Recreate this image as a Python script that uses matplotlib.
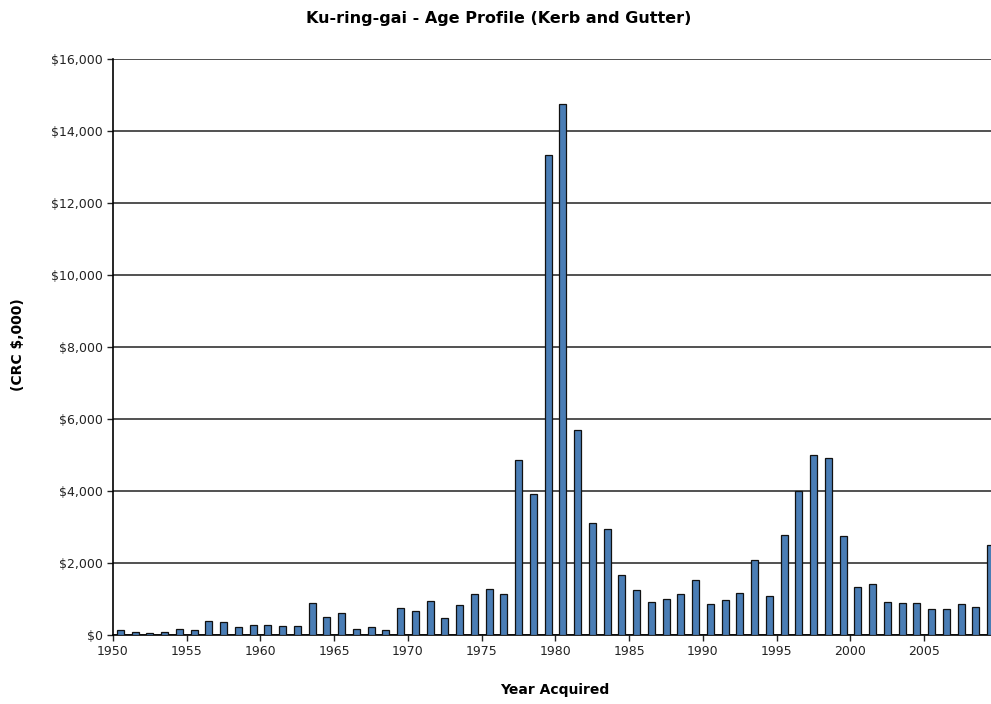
import matplotlib
matplotlib.use("Agg")
import matplotlib.pyplot as plt
from matplotlib.ticker import FuncFormatter

years = list(range(1950, 2010))
values = [
    130, 90, 50, 90, 180, 140, 380, 370, 220, 290,      # 1950-1959
    290, 260, 260, 900, 500, 620, 170, 220, 140, 740,   # 1960-1969
    670, 950, 460, 820, 1150, 1270, 1140, 4850, 3920, 13330,  # 1970-1979
    14760, 5700, 3120, 2950, 1660, 1250, 930, 1010, 1130, 1540,  # 1980-1989
    850, 970, 1170, 2090, 1090, 2780, 3990, 5010, 4920, 2750,    # 1990-1999
    1330, 1410, 920, 890, 890, 720, 720, 850, 770, 2510,         # 2000-2009
]
x_ticks = list(range(1950, 2010, 5))
y_ticks = list(range(0, 16001, 2000))

title = "Ku-ring-gai - Age Profile (Kerb and Gutter)"
x_label = "Year Acquired"
y_label = "(CRC $,000)"

plt.rcParams['font.family'] = ['DejaVu Sans']

fig = plt.figure(figsize=(9.91, 7.04), dpi=100)
ax = fig.add_axes([113 / 991, 69 / 704, (991 - 113) / 991, 576 / 704])

ax.bar([y + 0.5 for y in years], values, width=0.48, color='#4A7DB5',
       edgecolor='#111111', linewidth=0.9, zorder=3)

ax.set_xlim(1950, 2009.53)
ax.set_ylim(0, 16000)
ax.set_xticks(x_ticks)
ax.set_yticks(y_ticks)
ax.yaxis.set_major_formatter(FuncFormatter(lambda v, p: f"${int(v):,}"))
ax.grid(axis='y', color='#222222', linewidth=1.1, zorder=0)
ax.set_axisbelow(True)

for s in ['top', 'right']:
    ax.spines[s].set_visible(False)
ax.spines['left'].set_linewidth(1.2)
ax.spines['bottom'].set_linewidth(1.2)
ax.tick_params(axis='both', labelsize=9, length=4, width=1, color='#222222',
               labelcolor='#222222')

ax.set_xlabel(x_label, fontsize=10, fontweight='bold')
ax.xaxis.set_label_coords((555 - 113) / 878, -(683 - 635) / 576)
ax.set_ylabel(y_label, fontsize=10, fontweight='bold')
ax.yaxis.set_label_coords(-(113 - 25) / 878, (635 - 345) / 576)
fig.suptitle(title, fontsize=11.5, fontweight='bold', x=0.503, y=0.985)

fig.savefig("out.png", dpi=100)
